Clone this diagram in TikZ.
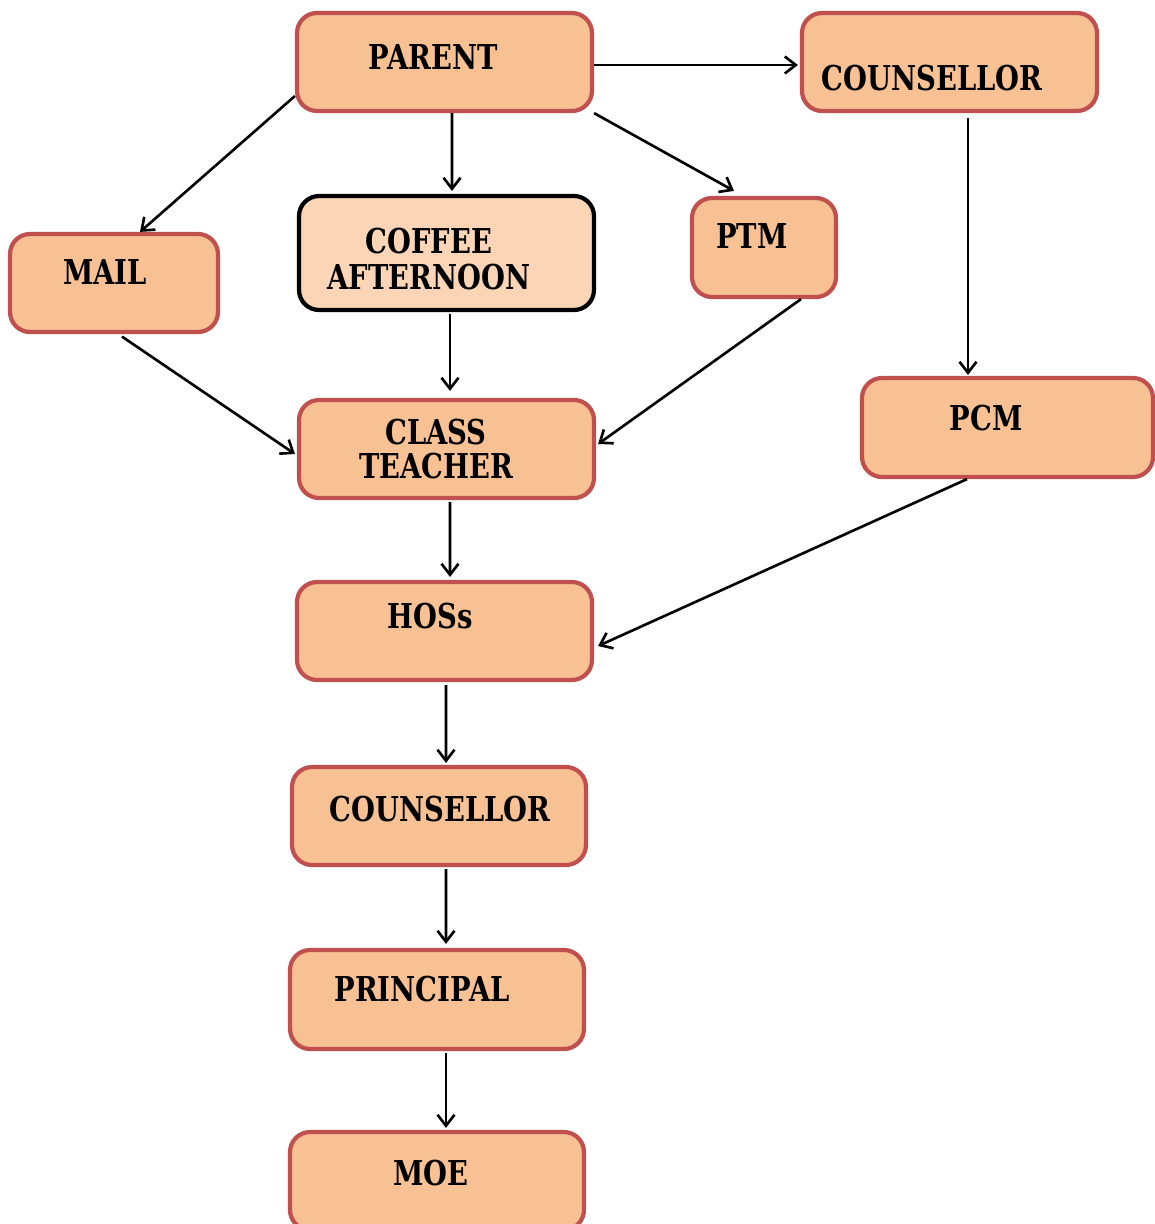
\documentclass[tikz,border=0pt]{standalone}
\usepackage{fontspec}
\setmainfont{DejaVu Serif}[FakeStretch=0.8]
\usetikzlibrary{arrows.meta,calc}
\definecolor{boxfill}{HTML}{F8C193}
\definecolor{boxline}{HTML}{C0504D}
\definecolor{lightfill}{HTML}{FBD5B5}
\begin{document}
\begin{tikzpicture}[x=0.02cm,y=-0.02cm,
  box/.style={draw=boxline, fill=boxfill, line width=2.4pt, rounded corners=0.4cm, inner sep=0pt},
  darkbox/.style={draw=black, fill=lightfill, line width=2.4pt, rounded corners=0.4cm, inner sep=0pt},
  lbl/.style={font=\fontsize{19.5}{21}\selectfont\bfseries, inner sep=0pt, align=center},
  conn/.style={line width=1.5pt, -{Straight Barb[length=0.22cm,width=0.34cm,line width=1.5pt]}}]
\clip (0,0) rectangle (1155,1224);
\useasboundingbox (0,0) rectangle (1155,1224);
% boxes
\node[box, minimum width=5.9cm, minimum height=1.96cm] (parent) at (444.5,62) {};
\node[box, minimum width=5.9cm, minimum height=1.96cm] (counsA) at (949.5,62) {};
\node[box, minimum width=4.16cm, minimum height=1.96cm] (mail) at (114,283) {};
\node[darkbox, minimum width=5.9cm, minimum height=2.28cm] (coffee) at (446.5,253) {};
\node[box, minimum width=2.88cm, minimum height=1.98cm] (ptm) at (764,247.5) {};
\node[box, minimum width=5.82cm, minimum height=1.98cm] (pcm) at (1007.5,427.5) {};
\node[box, minimum width=5.9cm, minimum height=1.96cm] (ct) at (446.5,449) {};
\node[box, minimum width=5.9cm, minimum height=1.96cm] (hoss) at (444.5,631) {};
\node[box, minimum width=5.88cm, minimum height=1.96cm] (counsB) at (439,816) {};
\node[box, minimum width=5.88cm, minimum height=1.98cm] (principal) at (437,999.5) {};
\node[box, minimum width=5.88cm, minimum height=1.96cm] (moe) at (437,1181) {};
% labels
\node[lbl] (tparent) at (433,57) {PARENT};
\node[lbl] (tcounsA) at (932,78) {COUNSELLOR};
\node[lbl] (tmail) at (105,272) {MAIL};
\node[lbl, font=\fontsize{19.5}{21}\selectfont\bfseries] (tcoffee) at (429,259) {COFFEE\\AFTERNOON};
\node[lbl] (tptm) at (752,236) {PTM};
\node[lbl] (tpcm) at (986,418) {PCM};
\node[lbl, font=\fontsize{19.5}{19.5}\selectfont\bfseries] (tct) at (436,449) {CLASS\\TEACHER};
\node[lbl] (thoss) at (430,616) {HOSs};
\node[lbl] (tcounsB) at (440,809) {COUNSELLOR};
\node[lbl] (tprincipal) at (422,989) {PRINCIPAL};
\node[lbl] (tmoe) at (431,1173) {MOE};
% connectors
\draw[conn] ([yshift=-0.06cm]parent.east) -- ([yshift=-0.06cm,xshift=-0.04cm]counsA.west);
\draw[conn] ([yshift=-0.68cm]parent.west) -- ([xshift=0.52cm]mail.north);
\draw[conn] ([xshift=0.15cm]parent.south) -- ([xshift=0.11cm,yshift=0.06cm]coffee.north);
\draw[conn] (parent.south east) -- ([xshift=-0.6cm,yshift=0.1cm]ptm.north);
\draw[conn] ([xshift=0.37cm,yshift=-0.1cm]counsA.south) -- ([xshift=0.37cm,yshift=0.02cm]counsA.south |- pcm.north);
\draw[conn] ([xshift=0.16cm,yshift=-0.05cm]mail.south) -- ([yshift=-0.1cm,xshift=-0.04cm]ct.west);
\draw[conn] ([xshift=0.07cm,yshift=-0.04cm]coffee.south) -- ([xshift=0.07cm,yshift=0.14cm]ct.north);
\draw[conn] ([xshift=0.74cm]ptm.south) -- ([yshift=0.1cm,xshift=0.04cm]ct.east);
\draw[conn] ([xshift=0.07cm,yshift=-0.04cm]ct.south) -- ([xshift=0.11cm,yshift=0.06cm]hoss.north);
\draw[conn] ([xshift=-0.81cm]pcm.south) -- ([yshift=-0.3cm,xshift=0.08cm]hoss.east);
\draw[conn] ([xshift=0.03cm,yshift=-0.06cm]hoss.south) -- ([xshift=0.14cm,yshift=0.04cm]counsB.north);
\draw[conn] ([xshift=0.14cm,yshift=-0.04cm]counsB.south) -- ([xshift=0.18cm,yshift=0.08cm]principal.north);
\draw[conn] ([xshift=0.18cm,yshift=-0.04cm]principal.south) -- ([xshift=0.18cm,yshift=0.04cm]moe.north);
\end{tikzpicture}
\end{document}
